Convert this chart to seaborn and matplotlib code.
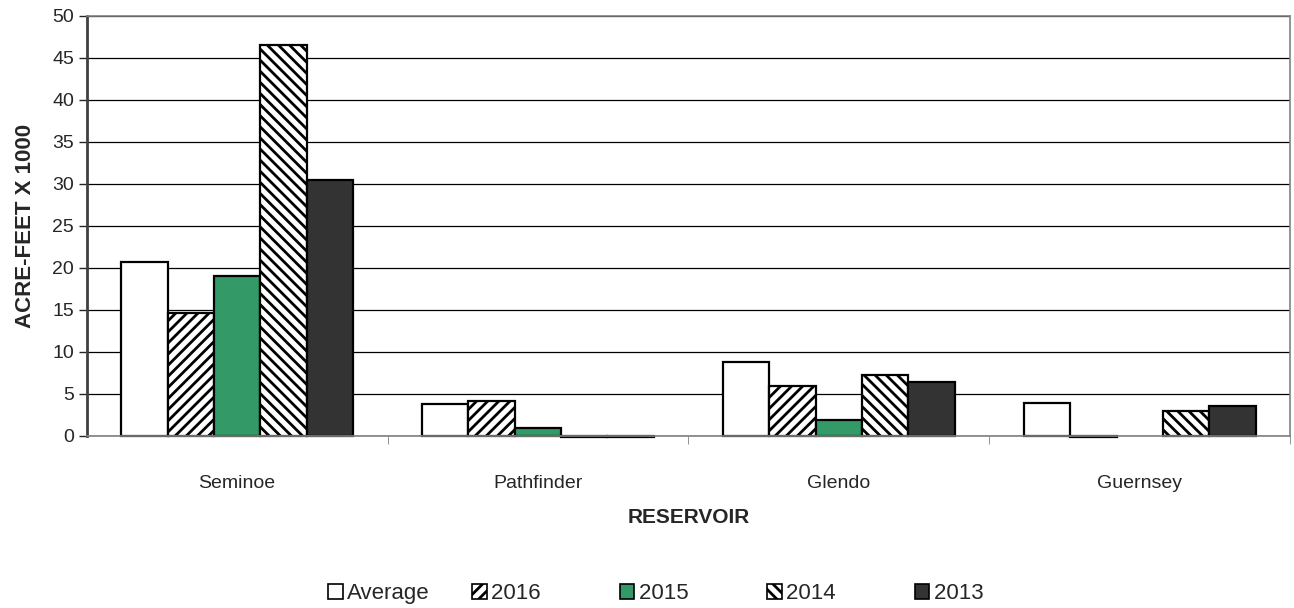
import matplotlib
matplotlib.use("Agg")
import matplotlib.pyplot as plt
import seaborn as sns
import pandas as pd
import numpy as np
from matplotlib.patches import Patch

reservoirs = ["Seminoe", "Pathfinder", "Glendo", "Guernsey"]
series = ["Average", "2016", "2015", "2014", "2013"]
avg_vals = [20.7, 3.8, 8.8, 3.9]
y2016 = [14.6, 4.1, 5.9, -0.1]
y2015 = [19.0, 1.0, 1.9, np.nan]
y2014 = [46.5, -0.1, 7.2, 3.0]
y2013 = [30.4, -0.1, 6.4, 3.6]
yticks = [0, 5, 10, 15, 20, 25, 30, 35, 40, 45, 50]

values = [avg_vals, y2016, y2015, y2014, y2013]
rows = []
for s, vals in zip(series, values):
    for r, v in zip(reservoirs, vals):
        rows.append({"Reservoir": r, "Series": s, "Value": v})
df = pd.DataFrame(rows)

sns.set_style("white")
plt.rcParams['font.family'] = ['Liberation Sans', 'DejaVu Sans']
plt.rcParams['hatch.linewidth'] = 2.0

colors = ["#ffffff", "#ffffff", "#339966", "#ffffff", "#333333"]
hatches = [None, "///", None, "\\\\\\", None]

fig = plt.figure(figsize=(12.94, 6.08), dpi=100)
ax = fig.add_axes([0.067, 0.283, 0.930, 0.691])

sns.barplot(data=df, x="Reservoir", y="Value", hue="Series", order=reservoirs,
            hue_order=series, palette=colors, width=0.77, gap=0,
            edgecolor="black", linewidth=1.6, ax=ax, legend=False, saturation=1)

for cont, h in zip(ax.containers, hatches):
    for p in cont:
        p.set_clip_on(False)
        if h:
            p.set_hatch(h)
            p.set_edgecolor("black")

ax.set_ylim(0, 50)
ax.set_yticks(yticks)
ax.set_yticklabels([str(t) for t in yticks], fontsize=14)
ax.set_xlim(-0.5, 3.5)
ax.yaxis.grid(True, color="#000000", linewidth=0.9)
ax.set_axisbelow(True)
ax.tick_params(axis="x", length=0, pad=28, labelsize=14)
ax.tick_params(axis="y", length=6, direction="out", left=True, width=1, pad=3)
for sp in ax.spines.values():
    sp.set_color("#808080")
    sp.set_linewidth(1.2)
ax.spines["left"].set_color("#404040")
ax.spines["left"].set_linewidth(2)

# category separator ticks
ax.set_xticks([0.5, 1.5, 2.5, 3.5], minor=True)
ax.tick_params(axis="x", which="minor", length=6, bottom=True, color="#808080")

ax.set_xlabel("RESERVOIR", fontsize=15, fontweight="bold", labelpad=12)
ax.set_ylabel("ACRE-FEET X 1000", fontsize=16, fontweight="bold", labelpad=12)

handles = [Patch(facecolor=c, edgecolor="black", hatch=h, linewidth=1.2)
           for c, h in zip(colors, hatches)]
# pad shorter labels so every legend slot has the same width (as in the original)
width_chars = max(len(s) for s in series)
leg_labels = [s if len(s) == width_chars else s + " " * 6 for s in series]
fig.legend(handles, leg_labels, loc="center", bbox_to_anchor=(0.521, 0.024), ncol=5,
           frameon=False, fontsize=16, handlelength=0.65, handleheight=0.65,
           handletextpad=0.2, columnspacing=1.9)

fig.savefig("out.png", dpi=100)
